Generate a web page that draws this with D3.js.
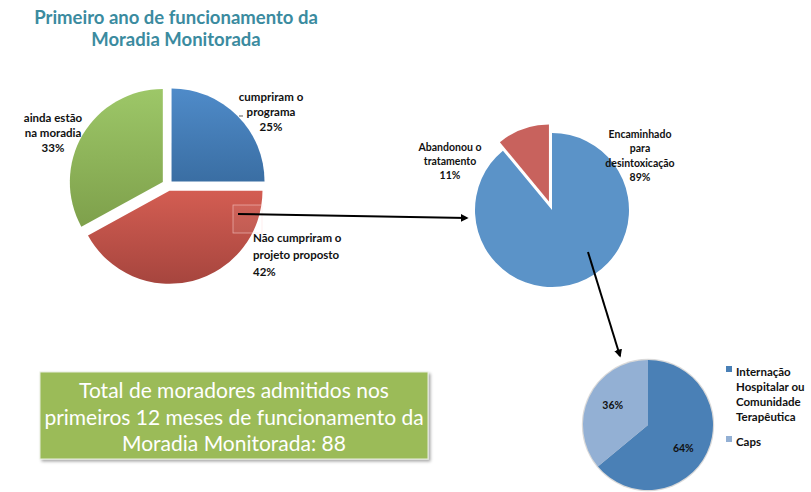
<!DOCTYPE html>
<html>
<head>
<meta charset="utf-8">
<script src="https://cdn.jsdelivr.net/npm/d3@7"></script>
<style>
  body { margin: 0; background: #fff; }
  svg { display: block; font-family: Lato, "Open Sans", sans-serif; }
</style>
</head>
<body>
<svg id="chart" width="811" height="492"></svg>
<script>
// first pie: situação dos moradores
var mainLabels = ['cumpriram o programa', 'Não cumpriram o projeto proposto', 'ainda estão na moradia'];
var mainValues = [25, 42, 33];
var mainColors = [['#4f8bc9', '#3a6ea3'], ['#d35d52', '#a6453e'], ['#9dc768', '#7ea04b']];

// second pie: os que não cumpriram
var dropLabels = ['Encaminhado para desintoxicação', 'Abandonou o tratamento'];
var dropValues = [89, 11];
var dropColors = ['#5b93c8', '#c8625d'];

// third pie: destino dos encaminhados
var destLabels = ['Internação Hospitalar ou Comunidade Terapêutica', 'Caps'];
var destValues = [64, 36];
var destColors = ['#4a80b6', '#93b0d4'];

var svg = d3.select('#chart');
var defs = svg.append('defs');

// gradients for the first pie
mainColors.forEach(function (c, i) {
	var g = defs.append('linearGradient')
		.attr('id', 'grad' + i)
		.attr('x1', 0).attr('y1', 0).attr('x2', 0).attr('y2', 1);
	g.append('stop').attr('offset', '0%').attr('stop-color', c[0]);
	g.append('stop').attr('offset', '100%').attr('stop-color', c[1]);
});

var marker = defs.append('marker')
	.attr('id', 'arrow')
	.attr('viewBox', '0 0 10 10')
	.attr('refX', 8).attr('refY', 5)
	.attr('markerWidth', 4).attr('markerHeight', 4)
	.attr('orient', 'auto');
marker.append('path').attr('d', 'M0,0L10,5L0,10z').attr('fill', '#000');

var shadow = defs.append('filter').attr('id', 'shadow')
	.attr('x', '-10%').attr('y', '-10%').attr('width', '130%').attr('height', '140%');
shadow.append('feDropShadow')
	.attr('dx', 2).attr('dy', 2).attr('stdDeviation', 1.5)
	.attr('flood-color', '#000').attr('flood-opacity', 0.35);

// title
svg.append('text')
	.attr('x', 176).attr('y', 24)
	.attr('text-anchor', 'middle')
	.attr('font-size', 18.5).attr('font-weight', 'bold')
	.attr('fill', '#3b8b9f')
	.selectAll('tspan')
	.data(['Primeiro ano de funcionamento da', 'Moradia Monitorada'])
	.join('tspan')
	.attr('x', 176)
	.attr('dy', function (d, i) { return i ? 22 : 0; })
	.text(function (d) { return d; });

var pie = d3.pie().sort(null).value(function (d) { return d; });

// ---- pie 1
var c1 = { x: 168, y: 185, r: 93 };
var arc1 = d3.arc().innerRadius(0).outerRadius(c1.r);
var explode1 = [5, 6, 6];
var g1 = svg.append('g').attr('transform', `translate(${c1.x},${c1.y})`);
g1.selectAll('path')
	.data(pie(mainValues))
	.join('path')
	.attr('d', arc1)
	.attr('transform', function (d, i) {
		var a = (d.startAngle + d.endAngle) / 2;
		return `translate(${Math.sin(a) * explode1[i]},${-Math.cos(a) * explode1[i]})`;
	})
	.attr('fill', function (d, i) { return `url(#grad${i})`; });

// faint selection box on red slice
svg.append('rect')
	.attr('x', 233).attr('y', 205).attr('width', 29).attr('height', 28)
	.attr('fill', 'rgba(255,255,255,0.06)')
	.attr('stroke', 'rgba(255,220,220,0.6)').attr('stroke-width', 0.8);

function multiline(sel, lines, x, y, lh, anchor, size) {
	var t = sel.append('text')
		.attr('x', x).attr('y', y)
		.attr('text-anchor', anchor)
		.attr('font-size', size).attr('font-weight', 'bold')
		.attr('fill', '#111');
	lines.forEach(function (l, i) {
		t.append('tspan').attr('x', x).attr('y', y + i * lh).text(l);
	});
	return t;
}

var pct = function (v) { return v + '%'; };

multiline(svg, ['cumpriram o', 'programa', pct(mainValues[0])], 271, 101, 15, 'middle', 11.5);
multiline(svg, ['Não cumpriram o', 'projeto proposto', pct(mainValues[1])], 253, 242, 17, 'start', 11.5);
multiline(svg, ['ainda estão', 'na moradia', pct(mainValues[2])], 53, 122, 15, 'middle', 11.5);
svg.append('line').attr('x1', 239).attr('y1', 116).attr('x2', 243).attr('y2', 116)
	.attr('stroke', '#333').attr('stroke-width', 0.8);

// arrow pie1 -> pie2
svg.append('line')
	.attr('x1', 238).attr('y1', 214).attr('x2', 467).attr('y2', 218)
	.attr('stroke', '#000').attr('stroke-width', 2)
	.attr('marker-end', 'url(#arrow)');

// ---- pie 2
var c2 = { x: 552, y: 210, r: 77 };
var arc2 = d3.arc().innerRadius(0).outerRadius(c2.r);
var explode2 = [0, 9];
var g2 = svg.append('g').attr('transform', `translate(${c2.x},${c2.y})`);
g2.selectAll('path')
	.data(pie(dropValues))
	.join('path')
	.attr('d', arc2)
	.attr('transform', function (d, i) {
		var a = (d.startAngle + d.endAngle) / 2;
		return `translate(${Math.sin(a) * explode2[i]},${-Math.cos(a) * explode2[i]})`;
	})
	.attr('fill', function (d, i) { return dropColors[i]; });

multiline(svg, ['Encaminhado', 'para', 'desintoxicação', pct(dropValues[0])], 640, 138, 14.3, 'middle', 10.5);
multiline(svg, ['Abandonou o', 'tratamento', pct(dropValues[1])], 450, 151, 14, 'middle', 10.5);

// arrow pie2 -> pie3
svg.append('line')
	.attr('x1', 588).attr('y1', 252).attr('x2', 620).attr('y2', 356)
	.attr('stroke', '#000').attr('stroke-width', 2)
	.attr('marker-end', 'url(#arrow)');

// ---- pie 3
var c3 = { x: 648, y: 425, r: 65 };
var arc3 = d3.arc().innerRadius(0).outerRadius(c3.r);
var g3 = svg.append('g').attr('transform', `translate(${c3.x},${c3.y})`);
g3.append('circle').attr('r', c3.r + 1.2).attr('fill', '#d9d9d9');
var slices3 = pie(destValues);
var labelShift = [[0, 6], [0, -3]];
g3.selectAll('path')
	.data(slices3)
	.join('path')
	.attr('d', arc3)
	.attr('fill', function (d, i) { return destColors[i]; });
g3.selectAll('text')
	.data(slices3)
	.join('text')
	.attr('transform', function (d, i) {
		var p = d3.arc().innerRadius(c3.r * 0.6).outerRadius(c3.r * 0.6).centroid(d);
		return `translate(${p[0] + labelShift[i][0]},${p[1] + 4 + labelShift[i][1]})`;
	})
	.attr('text-anchor', 'middle')
	.attr('font-size', 10.5).attr('font-weight', 'bold')
	.attr('fill', '#111')
	.text(function (d) { return pct(d.data); });

// legend
var legendLines = [['Internação', 'Hospitalar ou', 'Comunidade', 'Terapêutica'], ['Caps']];
var legendY = [372, 442];
legendLines.forEach(function (lines, i) {
	svg.append('rect')
		.attr('x', 726).attr('y', legendY[i] - 6)
		.attr('width', 6).attr('height', 6)
		.attr('fill', destColors[i]);
	multiline(svg, lines, 736, legendY[i] + 4, 15, 'start', 11.5);
});

// text box
var box = svg.append('g');
box.append('rect')
	.attr('x', 40).attr('y', 372).attr('width', 388).attr('height', 87)
	.attr('fill', '#9bbb59')
	.attr('stroke', '#e8eede').attr('stroke-width', 1)
	.attr('filter', 'url(#shadow)');
var boxText = box.append('text')
	.attr('text-anchor', 'middle')
	.attr('font-size', 21)
	.attr('fill', '#fff');
['Total de moradores admitidos nos', 'primeiros 12 meses de funcionamento da', 'Moradia Monitorada: 88']
	.forEach(function (l, i) {
		boxText.append('tspan').attr('x', 234).attr('y', 398 + i * 26.5).text(l);
	});
</script>
</body>
</html>
